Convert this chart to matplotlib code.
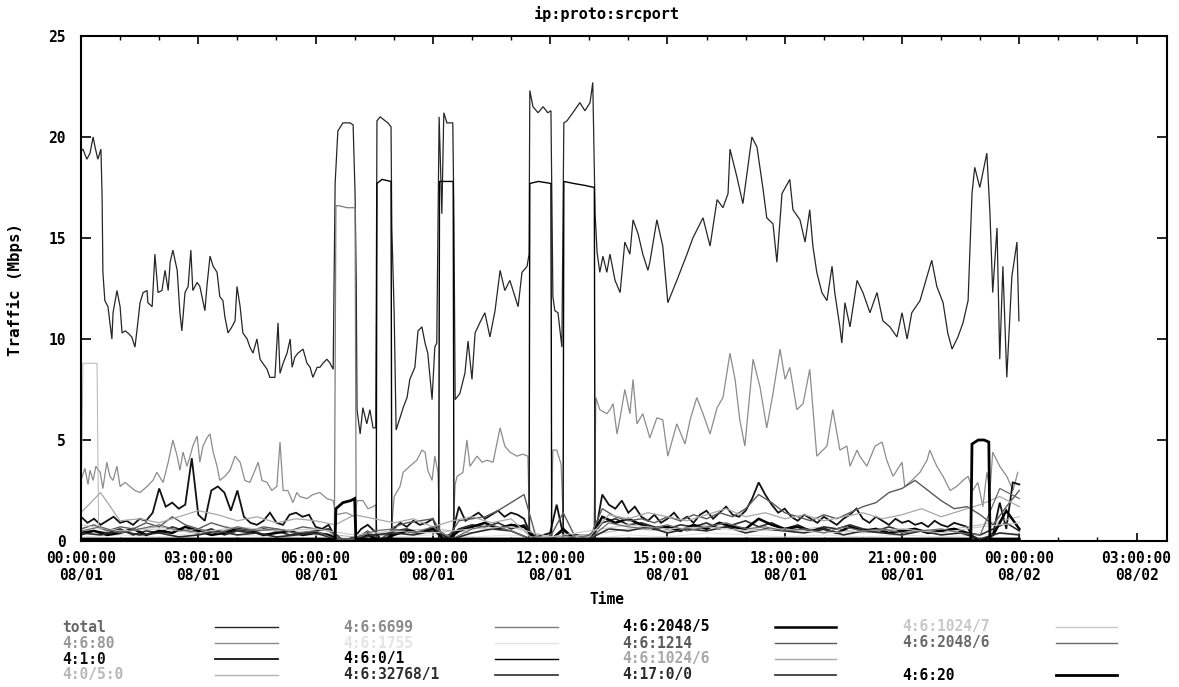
import numpy as np
import matplotlib
matplotlib.use("Agg")
import matplotlib.pyplot as plt
from matplotlib.lines import Line2D
from matplotlib.ticker import MultipleLocator

W, H = 1179, 687
MONO = "DejaVu Sans Mono"

# ---- traffic series (hours since 08/01 00:00, Mbps) ----
total_h = [0.00, 0.05, 0.15, 0.23, 0.31, 0.36, 0.43, 0.51, 0.54, 0.56, 0.61, 0.69, 0.79, 0.82, 0.92,
           1.00, 1.05, 1.13, 1.20, 1.30, 1.38, 1.43, 1.51, 1.59, 1.69, 1.71, 1.82, 1.89, 1.97,
           2.07, 2.15, 2.23, 2.28, 2.35, 2.46, 2.53, 2.58, 2.66, 2.74, 2.81, 2.86, 2.97,
           3.04, 3.17, 3.22, 3.30, 3.38, 3.48, 3.55, 3.63, 3.68, 3.76, 3.86, 3.94, 3.99,
           4.07, 4.14, 4.25, 4.32, 4.40, 4.50, 4.58, 4.65, 4.76, 4.83, 4.96,
           5.04, 5.09, 5.17, 5.27, 5.35, 5.40, 5.47, 5.55, 5.68, 5.78, 5.86, 5.93,
           6.04, 6.11, 6.19, 6.29, 6.37, 6.45, 6.50, 6.57, 6.70, 6.88, 6.96,
           7.01, 7.04, 7.06, 7.14, 7.21, 7.31, 7.39, 7.47, 7.54, 7.57, 7.65, 7.78, 7.85, 7.93, 7.95,
           8.01, 8.06, 8.16, 8.24, 8.34, 8.41, 8.54, 8.62, 8.72, 8.80, 8.87, 8.98,
           9.05, 9.10, 9.16, 9.23, 9.28, 9.36, 9.44, 9.51, 9.54, 9.57, 9.69, 9.82, 9.90,
           10.00, 10.08, 10.20, 10.33, 10.46, 10.59, 10.72, 10.84, 10.97,
           11.10, 11.18, 11.28, 11.41, 11.46, 11.48, 11.56, 11.69, 11.82, 11.94,
           12.02, 12.07, 12.12, 12.20, 12.30, 12.35, 12.43, 12.58, 12.76, 12.89,
           13.02, 13.09, 13.15, 13.20, 13.27, 13.35, 13.45, 13.53, 13.66, 13.79, 13.91,
           14.04, 14.12, 14.25, 14.37, 14.50, 14.55, 14.73, 14.88,
           15.01, 15.24, 15.50, 15.65, 15.91, 16.09, 16.27, 16.42, 16.55, 16.60, 16.78, 16.93,
           17.16, 17.29, 17.44, 17.54, 17.70, 17.80, 17.93, 18.13, 18.21, 18.39, 18.52, 18.64,
           18.72, 18.82, 18.95, 19.08, 19.21, 19.28, 19.41, 19.46, 19.54, 19.67, 19.85,
           20.00, 20.18, 20.36, 20.51, 20.69, 20.87, 21.00, 21.13, 21.25, 21.46, 21.64, 21.76,
           21.89, 22.05, 22.17, 22.28, 22.43, 22.56, 22.69, 22.79, 22.86, 22.99,
           23.17, 23.25, 23.32, 23.43, 23.50, 23.58, 23.68, 23.81, 23.94, 23.99]
total_v = [19.3, 19.4, 18.9, 19.2, 20.0, 19.5, 18.9, 19.4, 17.0, 13.3, 11.9, 11.6, 10.0, 11.3, 12.4,
           11.6, 10.3, 10.4, 10.3, 10.1, 9.6, 10.4, 11.8, 12.3, 12.4, 11.8, 11.6, 14.2, 12.3,
           12.4, 13.4, 12.4, 13.8, 14.4, 13.4, 11.3, 10.4, 12.3, 12.6, 14.4, 12.4, 12.8,
           12.6, 11.4, 12.6, 14.1, 13.6, 13.3, 12.1, 11.9, 11.1, 10.3, 10.6, 10.9, 12.6,
           11.6, 10.3, 10.0, 9.6, 9.3, 10.0, 9.0, 8.8, 8.5, 8.1, 8.1,
           10.8, 8.3, 8.8, 9.3, 10.0, 8.6, 9.1, 9.3, 9.5, 8.8, 8.6, 8.1,
           8.6, 8.6, 8.8, 9.0, 8.8, 8.5, 17.7, 20.3, 20.7, 20.7, 20.6,
           17.2, 12.9, 6.5, 5.3, 6.6, 5.8, 6.5, 5.6, 5.6, 20.8, 21.0, 20.8, 20.7, 20.5, 15.5,
           11.3, 5.5, 6.1, 6.6, 7.1, 8.0, 8.6, 10.4, 10.6, 9.8, 9.3, 7.0,
           9.6, 9.8, 21.0, 16.2, 21.2, 20.7, 20.7, 20.7, 15.7, 7.0, 7.3, 8.3, 9.9,
           8.0, 10.3, 10.8, 11.3, 10.1, 11.4, 13.4, 12.4, 12.9,
           12.1, 11.6, 13.3, 13.6, 14.2, 22.3, 21.5, 21.2, 21.5, 21.2,
           21.3, 12.1, 11.4, 11.3, 9.6, 20.7, 20.8, 21.2, 21.7, 21.3,
           21.7, 22.7, 16.2, 14.3, 13.3, 14.1, 13.3, 14.2, 12.9, 12.3, 14.8,
           14.2, 15.9, 15.2, 14.2, 13.4, 13.8, 15.9, 14.6,
           11.8, 12.9, 14.2, 15.0, 16.0, 14.6, 16.9, 16.5, 17.2, 19.4, 18.0, 16.7,
           20.0, 19.5, 17.5, 16.0, 15.7, 13.8, 17.2, 17.9, 16.4, 15.9, 14.8, 16.4,
           14.6, 13.3, 12.3, 11.9, 13.6, 12.3, 10.6, 9.8, 11.8, 10.6, 12.9,
           12.3, 11.3, 12.3, 10.9, 10.6, 10.1, 11.3, 10.0, 11.3, 11.9, 13.1, 13.9,
           12.6, 11.8, 10.3, 9.5, 10.1, 10.8, 11.9, 17.2, 18.5, 17.5,
           19.2, 16.2, 12.3, 15.5, 9.0, 13.6, 8.1, 13.1, 14.8, 10.9]

web_h = [0.00, 0.10, 0.18, 0.23, 0.31, 0.38, 0.49, 0.56, 0.66, 0.74, 0.82, 0.92,
         1.00, 1.13, 1.25, 1.38, 1.51, 1.69, 1.84, 1.94, 2.10, 2.23, 2.35, 2.46, 2.53, 2.61,
         2.71, 2.79, 2.86, 2.97, 3.04, 3.12, 3.22, 3.30, 3.38, 3.48, 3.55, 3.68, 3.81, 3.94,
         4.07, 4.19, 4.32, 4.45, 4.53, 4.63, 4.76, 4.88, 5.01, 5.09, 5.17, 5.29, 5.42, 5.52,
         5.60, 5.78, 5.93, 6.11, 6.29, 6.45, 6.52, 6.78, 7.01, 7.06, 7.21, 7.34, 7.47, 7.54,
         7.57, 7.93, 8.01, 8.16, 8.24, 8.41, 8.59, 8.72, 8.80, 8.87, 8.98, 9.05, 9.13, 9.18,
         9.51, 9.57, 9.62, 9.77, 9.87, 9.95, 10.13, 10.26, 10.38, 10.54, 10.72, 10.84, 10.97,
         11.15, 11.30, 11.43, 11.48, 12.02, 12.07, 12.17, 12.28, 12.35, 13.12, 13.17, 13.27,
         13.45, 13.53, 13.61, 13.71, 13.79, 13.91, 14.04, 14.12, 14.22, 14.37, 14.55, 14.73,
         14.88, 15.01, 15.24, 15.45, 15.58, 15.75, 15.91, 16.09, 16.27, 16.42, 16.60, 16.73,
         16.85, 16.98, 17.19, 17.37, 17.54, 17.70, 17.88, 18.01, 18.13, 18.31, 18.47, 18.64,
         18.82, 19.08, 19.23, 19.41, 19.59, 19.67, 19.85, 19.92, 20.10, 20.31, 20.49, 20.61,
         20.77, 21.00, 21.07, 21.25, 21.46, 21.64, 21.71, 21.89, 22.05, 22.23, 22.40, 22.56,
         22.69, 22.81, 22.94, 23.07, 23.17, 23.25, 23.32, 23.50, 23.68, 23.84, 23.96]
web_v = [3.0, 3.6, 2.8, 3.5, 3.0, 3.7, 3.4, 2.6, 3.9, 3.2, 3.0, 3.7,
         2.7, 2.9, 2.7, 2.5, 2.4, 2.7, 3.0, 3.4, 2.9, 3.9, 5.0, 4.2, 3.5, 4.4,
         3.7, 4.2, 4.7, 5.2, 3.9, 4.7, 5.1, 5.3, 4.4, 3.7, 3.0, 3.2, 3.5, 4.2,
         3.9, 3.0, 2.9, 3.5, 3.9, 3.0, 2.9, 2.5, 2.7, 4.9, 2.5, 2.5, 1.9, 2.4,
         2.2, 2.1, 2.3, 2.4, 2.1, 2.0, 1.3, 1.4, 1.2, 2.0, 2.0, 1.6, 1.7, 1.8,
         0.3, 0.3, 2.2, 2.7, 3.4, 3.7, 4.0, 4.5, 4.4, 3.5, 3.0, 4.2, 3.4, 0.3,
         0.3, 2.8, 3.2, 3.4, 5.0, 3.7, 4.2, 3.9, 4.0, 3.9, 5.6, 4.7, 4.4,
         4.2, 4.3, 4.2, 0.3, 0.3, 4.5, 4.5, 3.8, 0.3, 0.3, 7.1, 6.5,
         6.3, 6.5, 6.8, 5.3, 6.1, 7.5, 6.3, 8.0, 5.8, 6.3, 5.1, 6.1,
         6.0, 4.2, 5.8, 4.8, 6.0, 7.1, 6.3, 5.3, 6.6, 7.1, 9.3, 8.0,
         6.0, 4.7, 9.0, 7.6, 5.6, 7.3, 9.5, 8.0, 8.6, 6.5, 6.8, 8.5,
         4.2, 4.7, 6.5, 4.5, 4.7, 3.7, 4.5, 4.2, 3.7, 4.7, 4.9, 4.0,
         3.2, 3.9, 2.7, 3.0, 3.4, 4.0, 4.5, 3.7, 3.2, 2.5, 2.7, 3.0,
         3.2, 2.5, 2.9, 1.7, 3.4, 2.5, 4.4, 3.7, 3.2, 2.5, 3.4]

# 10-minute samples
icmp_v = [1.2, 0.9, 1.1, 0.8, 1.0, 1.2,  0.9, 1.0, 0.8, 1.1, 1.0, 1.4,
          2.6, 1.7, 1.9, 1.6, 1.8, 4.1,  1.3, 1.0, 2.5, 2.7, 2.4, 1.5,
          2.5, 1.2, 0.9, 0.8, 1.0, 1.4,  0.9, 0.8, 1.3, 1.4, 1.2, 1.3,
          0.7, 0.6, 0.8, 0.2, 0.1, 0.1,  0.2, 0.6, 0.8, 0.5, 0.1, 0.1,
          0.6, 0.9, 0.7, 1.0, 0.8, 0.9,  1.1, 0.3, 0.2, 0.4, 1.7, 1.0,
          1.2, 1.4, 1.1, 1.3, 1.5, 1.2,  1.4, 1.3, 1.1, 0.3, 0.2, 0.3,
          0.4, 1.8, 0.3, 0.2, 0.3, 0.2,  0.3, 0.5, 2.3, 1.8, 1.6, 2.0,
          1.4, 1.7, 1.2, 1.0, 1.3, 0.9,  1.1, 1.4, 1.0, 1.2, 0.9, 1.3,
          1.5, 1.1, 1.4, 1.7, 1.3, 1.2,  1.5, 2.1, 2.9, 2.3, 1.8, 1.4,
          1.6, 1.2, 1.0, 1.3, 1.1, 0.9,  1.2, 1.0, 0.8, 1.1, 1.3, 1.6,
          1.1, 0.9, 1.2, 1.0, 0.8, 1.1,  0.9, 1.0, 0.8, 0.9, 0.7, 1.0,
          0.8, 0.7, 0.9, 0.8, 0.7, 0.1,  0.1, 0.1, 0.4, 1.9, 0.6, 2.9,
          2.8]

# 20-minute samples
p2048_5_v = [0.4, 0.5, 0.3, 0.4, 0.6, 0.3, 0.5, 0.4, 0.7, 0.5, 0.3, 0.4,
             0.6, 0.5, 0.3, 0.4, 0.5, 0.3, 0.4, 0.3, 0.0, 0.0, 0.3, 0.0,
             0.3, 0.5, 0.4, 0.6, 0.0, 0.5, 0.7, 0.9, 0.6, 0.8, 0.7, 0.0,
             0.0, 0.6, 0.0, 0.0, 1.2, 0.9, 1.1, 0.8, 0.6, 0.7, 0.5, 0.8,
             0.6, 0.9, 0.7, 0.6, 1.1, 0.8, 0.6, 0.7, 0.5, 0.6, 0.4, 0.7,
             0.5, 0.6, 0.4, 0.5, 0.6, 0.4, 0.5, 0.6, 0.4, 0.0, 0.3, 1.5,
             0.6]
p1214_v = [0.6, 0.8, 0.5, 0.7, 0.6, 0.9, 0.7, 1.2, 0.8, 0.6, 0.9, 0.7,
           0.6, 0.5, 0.7, 0.6, 0.5, 0.7, 0.6, 0.5, 0.1, 0.1, 0.5, 0.0,
           0.7, 0.9, 1.0, 1.1, 0.0, 1.0, 1.1, 1.2, 1.5, 1.9, 2.3, 0.0,
           0.2, 1.4, 0.1, 0.1, 1.6, 1.2, 1.0, 1.1, 0.9, 1.2, 1.0, 1.3,
           1.1, 1.4, 1.2, 1.6, 2.3, 1.9, 1.4, 1.2, 1.0, 1.3, 1.1, 1.4,
           1.7, 1.9, 2.4, 2.6, 3.0, 2.5, 2.0, 1.6, 1.7, 1.3, 0.8, 1.7,
           2.5]
p32768_v = [0.3, 0.5, 0.4, 0.6, 0.3, 0.5, 0.4, 0.7, 0.5, 0.4, 0.6, 0.3,
            0.5, 0.4, 0.6, 0.5, 0.3, 0.4, 0.5, 0.6, 0.1, 0.1, 0.4, 0.1,
            0.5, 0.6, 0.4, 0.7, 0.1, 0.6, 0.8, 0.7, 0.9, 0.6, 0.8, 0.1,
            0.1, 0.5, 0.1, 0.1, 0.9, 1.1, 0.8, 0.9, 0.7, 0.6, 0.8, 0.7,
            0.9, 0.6, 0.8, 1.0, 0.7, 0.9, 0.6, 0.8, 0.5, 0.7, 0.6, 0.8,
            0.6, 0.5, 0.7, 0.5, 0.6, 0.4, 0.5, 0.6, 0.4, 0.3, 0.6, 0.9,
            0.5]

# 30-minute samples
udp_v = [0.4, 0.3, 0.5, 0.3, 0.4, 0.2, 0.3, 0.5,
         0.3, 0.4, 0.2, 0.3, 0.4, 0.1, 0.1, 0.3,
         0.4, 0.3, 0.5, 0.1, 0.4, 0.6, 0.5, 0.1,
         0.1, 0.1, 0.1, 0.6,
         0.5, 0.7, 0.4, 0.6, 0.5, 0.7, 0.4, 0.6,
         0.5, 0.4, 0.6, 0.3, 0.5, 0.4, 0.3, 0.5,
         0.3, 0.4, 0.1, 0.4, 0.3]
p1024_6_v = [1.4, 2.4, 1.0, 1.1, 0.9, 1.2, 1.5, 1.3,
             1.0, 1.2, 0.9, 1.1, 1.0, 0.8, 1.3, 1.1,
             0.9, 1.1, 0.7, 1.0, 1.2, 0.9, 1.1, 0.2,
             0.2, 0.2, 0.2, 1.3,
             1.1, 1.4, 1.2, 1.0, 1.3, 1.6, 1.2, 1.4,
             1.1, 1.3, 1.0, 1.2, 1.4, 1.1, 1.3, 1.6,
             1.2, 1.5, 1.8, 2.2, 1.7]
p2048_6_v = [0.5, 0.7, 0.4, 0.6, 0.8, 0.5, 0.6, 0.4,
             0.7, 0.5, 0.6, 0.4, 0.5, 0.1, 0.1, 0.5,
             0.6, 0.4, 0.7, 0.1, 0.6, 0.8, 0.5, 0.1,
             0.1, 0.1, 0.1, 0.9,
             0.7, 0.6, 0.8, 0.5, 0.7, 0.9, 0.6, 0.7,
             0.5, 0.6, 0.4, 0.7, 0.5, 0.6, 0.4, 0.5,
             0.6, 0.4, 0.3, 2.6, 2.1]

# hourly samples
p1024_7_v = [0.8, 0.5, 0.6, 0.4, 0.7, 0.5, 0.6, 0.3, 0.5, 0.4, 0.6, 0.7, 0.2,
             0.5, 0.8, 0.6, 0.7, 0.5, 0.6, 0.4, 0.5, 0.6, 0.4, 0.7, 0.9]
p1755_v = [0.2, 0.3, 0.2, 0.4, 0.3, 0.2, 0.3, 0.1, 0.2, 0.3, 0.2, 0.3, 0.1,
           0.1, 0.3, 0.2, 0.4, 0.3, 0.2, 0.3, 0.2, 0.3, 0.2, 0.3, 0.4]

proto05_h = [0.0, 0.05, 0.41, 0.45, 1.0, 2.0, 3.0, 4.0, 5.0, 6.0, 7.0, 8.0, 9.0, 10.0,
             11.0, 12.0, 13.0, 14.0, 15.0, 16.0, 17.0, 18.0, 19.0, 20.0, 21.0, 22.0, 23.0, 24.0]
proto05_v = [1.0, 8.8, 8.8, 0.6, 0.5, 0.7, 0.4, 0.6, 0.5, 0.4, 0.2, 0.5, 0.6, 0.4,
             0.7, 0.2, 0.3, 0.6, 0.5, 0.8, 0.6, 0.5, 0.7, 0.4, 0.6, 0.5, 0.8, 1.2]

p6699_h = [0.0, 6.48, 6.52, 6.60, 6.80, 7.01, 7.04, 24.0]
p6699_v = [0.1, 0.1, 16.6, 16.6, 16.5, 16.5, 0.1, 0.1]

p0_1_h = [0.0, 7.55, 7.57, 7.70, 7.93, 7.95, 9.15, 9.17, 9.40, 9.52, 9.54,
          11.46, 11.48, 11.70, 12.02, 12.04, 12.33, 12.35, 12.60, 12.90, 13.13, 13.15, 24.0]
p0_1_v = [0.05, 0.05, 17.7, 17.9, 17.8, 0.05, 0.05, 17.8, 17.8, 17.8, 0.05,
          0.05, 17.7, 17.8, 17.7, 0.05, 0.05, 17.8, 17.7, 17.6, 17.5, 0.05, 0.05]

p20_h = [0.0, 6.50, 6.52, 6.70, 6.90, 7.00, 7.03, 22.76, 22.79, 22.95, 23.10, 23.22, 23.25, 24.0]
p20_v = [0.1, 0.1, 1.6, 1.9, 2.0, 2.1, 0.1, 0.1, 4.8, 5.0, 5.0, 4.9, 0.1, 0.1]


def even(vals):
    return np.linspace(0, 24, len(vals))


# (label, hours, values, line colour, text colour, width, key column, key row)
series = [
    ("total",       total_h,           total_v,   "#262626", "#666666", 0.9, 0, 0),
    ("4:6:80",      web_h,             web_v,     "#8c8c8c", "#9a9a9a", 0.9, 0, 1),
    ("4:1:0",       even(icmp_v),      icmp_v,    "#111111", "#111111", 1.3, 0, 2),
    ("4:0/5:0",     proto05_h,         proto05_v, "#b4b4b4", "#b8b8b8", 0.7, 0, 3),
    ("4:6:6699",    p6699_h,           p6699_v,   "#7c7c7c", "#8a8a8a", 0.9, 1, 0),
    ("4:6:1755",    even(p1755_v),     p1755_v,   "#e4e4e4", "#e4e4e4", 0.8, 1, 1),
    ("4:6:0/1",     p0_1_h,            p0_1_v,    "#000000", "#000000", 1.0, 1, 2),
    ("4:6:32768/1", even(p32768_v),    p32768_v,  "#2e2e2e", "#2e2e2e", 1.2, 1, 3),
    ("4:6:2048/5",  even(p2048_5_v),   p2048_5_v, "#000000", "#000000", 1.8, 2, 0),
    ("4:6:1214",    even(p1214_v),     p1214_v,   "#5a5a5a", "#5a5a5a", 1.0, 2, 1),
    ("4:6:1024/6",  even(p1024_6_v),   p1024_6_v, "#a8a8a8", "#a8a8a8", 0.9, 2, 2),
    ("4:17:0/0",    even(udp_v),       udp_v,     "#2a2a2a", "#2a2a2a", 1.2, 2, 3),
    ("4:6:1024/7",  even(p1024_7_v),   p1024_7_v, "#c8c8c8", "#c8c8c8", 0.8, 3, 0),
    ("4:6:2048/6",  even(p2048_6_v),   p2048_6_v, "#6a6a6a", "#6a6a6a", 0.9, 3, 1),
    ("4:6:20",      p20_h,             p20_v,     "#000000", "#000000", 2.0, 3, 3),
]

fig = plt.figure(figsize=(W / 100, H / 100), dpi=100)
ax = fig.add_axes([81 / W, 1 - 541 / H, 1086 / W, 505 / H])

for label, hx, vy, col, _, lw, _, _ in series:
    ax.plot(hx, vy, color=col, lw=lw, solid_joinstyle="miter")

ax.set_xlim(0, 100000 / 3600)
ax.set_ylim(0, 25)

major = list(range(0, 28, 3))
ax.set_xticks(major)
ax.set_xticklabels([f"{h % 24:02d}:00:00\n08/{1 + h // 24:02d}" for h in major],
                   family=MONO, weight="bold", size=10.5, linespacing=1.15)
ax.xaxis.set_minor_locator(MultipleLocator(1))
ax.set_yticks(range(0, 26, 5))
ax.set_yticklabels([str(v) for v in range(0, 26, 5)], family=MONO, weight="bold", size=10.5)

ax.tick_params(which="both", direction="in", top=True, right=True, color="black")
ax.tick_params(axis="x", which="major", length=6, width=1.2, pad=7)
ax.tick_params(axis="x", which="minor", length=3, width=1.0)
ax.tick_params(axis="y", which="major", length=7, width=1.2, pad=11)
for sp in ax.spines.values():
    sp.set_linewidth(1.5)
    sp.set_color("black")


def fx(x):
    return x / W


def fy(y):
    return 1 - y / H


fig.text(fx(607), fy(14), "ip:proto:srcport", family=MONO, weight="bold", size=11,
         ha="center", va="center")
fig.text(fx(607), fy(600), "Time", family=MONO, weight="bold", size=10.5,
         ha="center", va="center")
fig.text(fx(15), fy(289), "Traffic (Mbps)", family=MONO, weight="bold", size=11.4,
         rotation=90, ha="center", va="center")

# key below the plot: label first, then a short line sample
key_text_x = [62, 343, 622, 902]
key_line_x = [(215, 278), (495, 558), (775, 836), (1056, 1117)]
key_rows = [627, 643, 659, 675]
for label, _, _, col, tcol, lw, c, r in series:
    y = key_rows[r]
    fig.text(fx(key_text_x[c]), fy(y), label, family=MONO, weight="bold", size=10.5,
             color=tcol, ha="left", va="center")
    x0, x1 = key_line_x[c]
    fig.add_artist(Line2D([fx(x0), fx(x1)], [fy(y), fy(y)], transform=fig.transFigure,
                          color=col, lw=max(lw, 1.0)))

fig.savefig("out.png", dpi=100)
